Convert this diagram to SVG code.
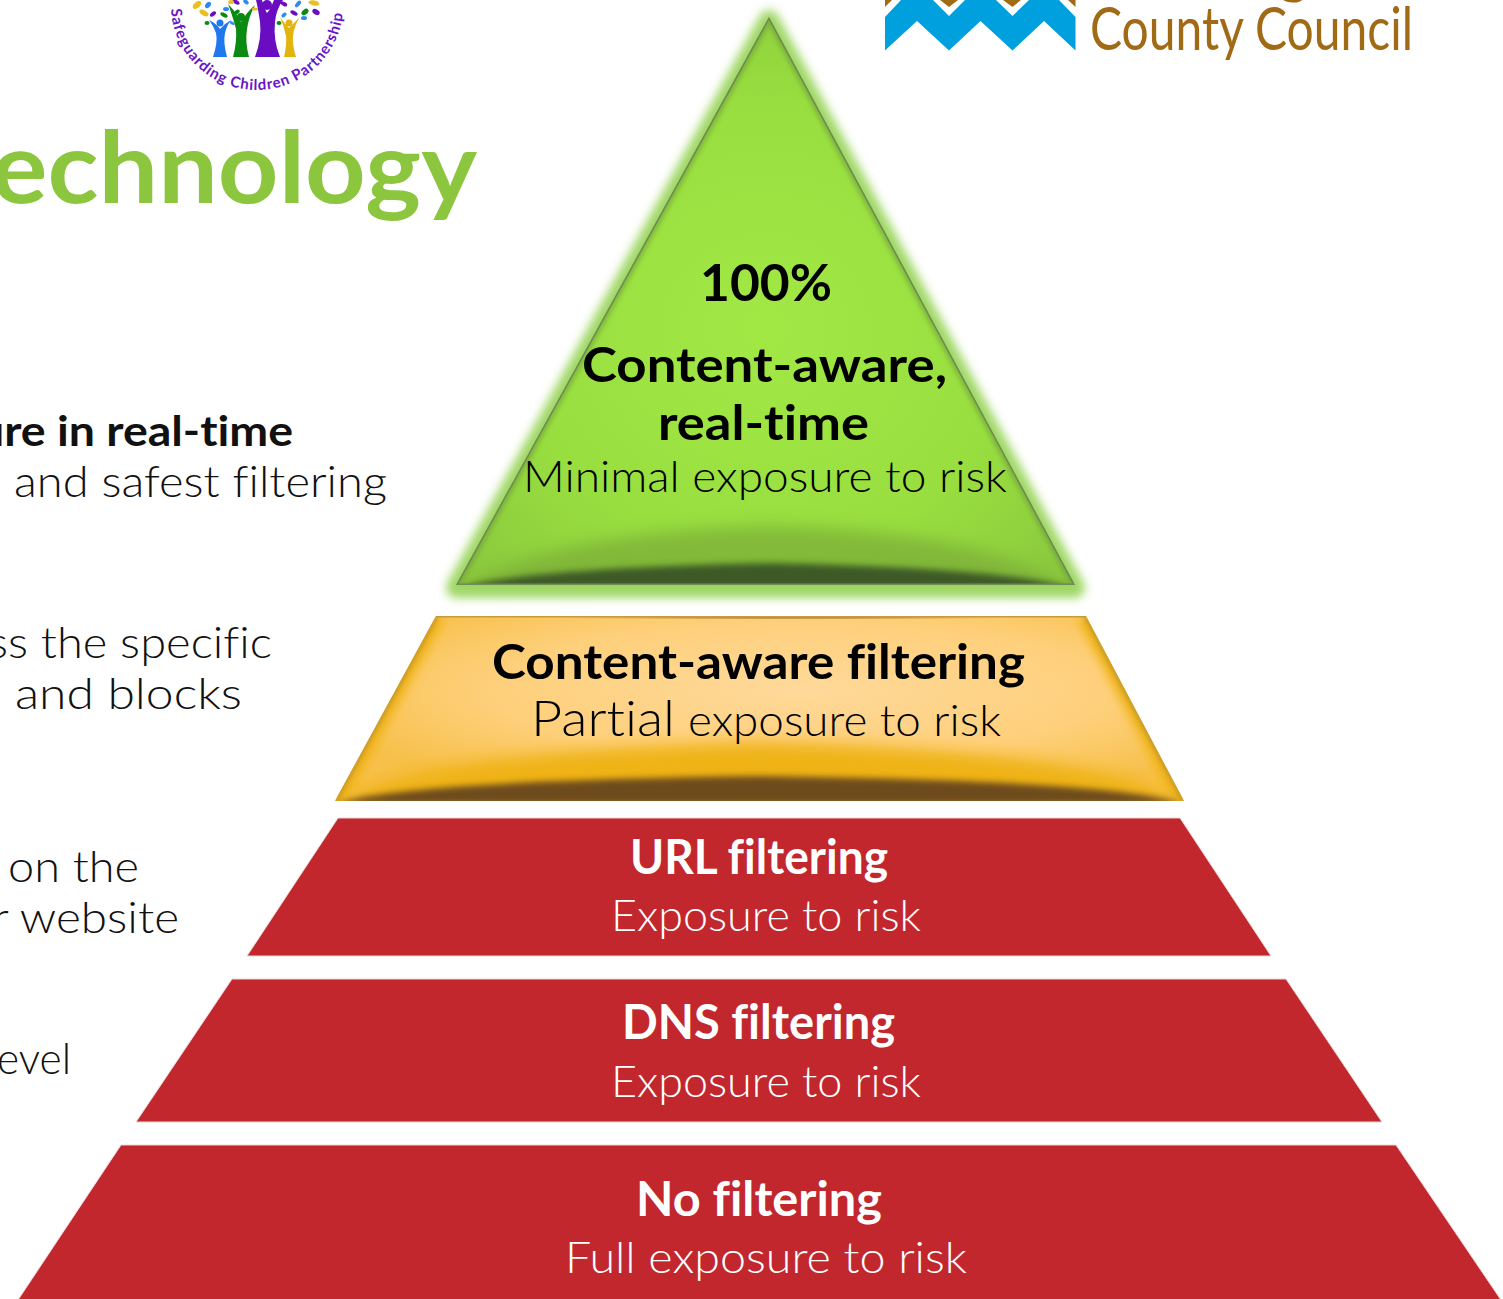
<svg xmlns="http://www.w3.org/2000/svg" width="1503" height="1299" viewBox="0 0 1503 1299">
<style>
text{font-family:"Lato","Liberation Sans",sans-serif;font-variant-ligatures:none}
.b{font-weight:700}
.t{font-size:43px;font-weight:300}
.left{font-size:44px;fill:#111;font-weight:300}
.w{fill:#fff}
.k{fill:#000}
.red{fill:#c1272d;stroke:#ecd5d5;stroke-width:1}
</style>
<defs>
<radialGradient id="gc" cx="0.5" cy="0.55" r="0.62"><stop offset="0" stop-color="#a2e845"/><stop offset="0.65" stop-color="#98de3f"/><stop offset="1" stop-color="#8ccb3e"/></radialGradient>
<radialGradient id="oc" cx="0.55" cy="0.4" r="0.6"><stop offset="0" stop-color="#ffd99a"/><stop offset="0.6" stop-color="#fed07c"/><stop offset="1" stop-color="#f7c04a"/></radialGradient>
<filter id="glow" x="-10%" y="-10%" width="120%" height="120%"><feGaussianBlur stdDeviation="5"/></filter>
<filter id="s8" x="-10%" y="-60%" width="120%" height="220%"><feGaussianBlur stdDeviation="8"/></filter>
<filter id="s4" x="-10%" y="-60%" width="120%" height="220%"><feGaussianBlur stdDeviation="3"/></filter>
<filter id="s5" x="-10%" y="-10%" width="120%" height="120%"><feGaussianBlur stdDeviation="5"/></filter>
<filter id="s2" x="-10%" y="-10%" width="120%" height="120%"><feGaussianBlur stdDeviation="2"/></filter>
<clipPath id="cg"><polygon points="769,17 1075,585 456,585"/></clipPath>
<clipPath id="co"><polygon points="436,616 1086,616 1184,801 335,801"/></clipPath>
<path id="arc" d="M171,6 A86,84 0 0 0 343,6"/>
</defs>
<rect width="1503" height="1299" fill="#fff"/>

<g id="logo-safeguarding">
<g fill="#1e78f0"><path d="M213,57 Q218,42 216,33 Q213,25 209,20 Q217,24 220,29 Q224,24 231,20 Q227,25 225,33 Q223,42 227,57Z"/><circle cx="220" cy="23" r="3.500"/></g>
<g fill="#0b8a12"><path d="M233,57 Q237,42 236,29 Q232,14 228,4 Q237,13 241,22 Q246,13 255,5 Q249,16 247,29 Q245,42 249,57Z"/><circle cx="241" cy="17" r="4"/></g>
<g fill="#6a0dc0"><path d="M255,57 Q262,38 260,22 Q258,8 256,0 L262,0 Q265,10 267,13 Q270,10 274,0 L283,0 Q276,10 275,22 Q273,40 280,57Z"/><circle cx="267" cy="5" r="5"/></g>
<g fill="#e3b30e"><path d="M284,57 Q287,44 286,36 Q284,26 280,17 Q285,24 289,28 Q293,24 300,17 Q294,26 293,36 Q292,44 296,57Z"/><circle cx="289" cy="23" r="3.500"/></g>
<g>
<ellipse cx="197" cy="5" rx="5" ry="3" fill="#e8c020" transform="rotate(-40 197 5)"/>
<ellipse cx="204" cy="13" rx="5" ry="2.500" fill="#e8c020" transform="rotate(30 204 13)"/>
<ellipse cx="208" cy="5" rx="3.500" ry="2.500" fill="#2a8cf0" transform="rotate(-50 208 5)"/>
<ellipse cx="213" cy="14" rx="3.500" ry="2" fill="#6a0dc0" transform="rotate(-40 213 14)"/>
<ellipse cx="207" cy="23" rx="2.500" ry="2" fill="#0b8a12"/>
<ellipse cx="224" cy="15" rx="4" ry="2" fill="#0b8a12" transform="rotate(30 224 15)"/>
<ellipse cx="226" cy="9" rx="3" ry="2" fill="#2a8cf0"/>
<ellipse cx="232" cy="23" rx="3" ry="1.500" fill="#2a8cf0" transform="rotate(30 232 23)"/>
<ellipse cx="236" cy="2" rx="4" ry="2" fill="#6a0dc0" transform="rotate(30 236 2)"/>
<ellipse cx="231" cy="2" rx="3" ry="2" fill="#e8c020"/>
<ellipse cx="237" cy="12" rx="3" ry="2" fill="#0b8a12" transform="rotate(-40 237 12)"/>
<ellipse cx="246" cy="2" rx="3" ry="2" fill="#2a8cf0" transform="rotate(40 246 2)"/>
<ellipse cx="255" cy="9" rx="3" ry="1.500" fill="#e8c020"/>
<ellipse cx="284" cy="4" rx="3.500" ry="2" fill="#6a0dc0" transform="rotate(30 284 4)"/>
<ellipse cx="284" cy="15" rx="3" ry="1.800" fill="#2a8cf0" transform="rotate(-40 284 15)"/>
<ellipse cx="294" cy="13" rx="4" ry="2" fill="#6a0dc0" transform="rotate(30 294 13)"/>
<ellipse cx="298" cy="4" rx="4" ry="2" fill="#2a8cf0" transform="rotate(-50 298 4)"/>
<ellipse cx="305" cy="12" rx="4" ry="2.500" fill="#0b8a12" transform="rotate(-40 305 12)"/>
<ellipse cx="304" cy="18" rx="3" ry="2" fill="#2a8cf0"/>
<ellipse cx="314" cy="3" rx="5.500" ry="2.500" fill="#e8c020" transform="rotate(10 314 3)"/>
<ellipse cx="316" cy="12" rx="4" ry="2.500" fill="#6a0dc0" transform="rotate(30 316 12)"/>
<ellipse cx="279" cy="23" rx="2.500" ry="2" fill="#0b8a12"/>
</g>
<text font-size="15" font-weight="700" fill="#6a14c8"><textPath href="#arc" startOffset="3" textLength="256" lengthAdjust="spacing">Safeguarding Children Partnership</textPath></text>
</g>

<g id="logo-council">
<polygon fill="#00a0df" points="885,17 901,0 933,0 949,16 965,0 996,0 1012.500,16 1029,0 1059,0 1075.500,17 1075.500,50.500 1044,21 1012.500,50.500 980.500,21 949,50.500 917,21 885,50.500"/>
<g fill="#a16a14"><polygon points="940,0 958,0 949,7"/><polygon points="1003,0 1021,0 1012.500,7"/><polygon points="885,0 892,0 885,7"/><polygon points="1068,0 1075.500,0 1075.500,7"/></g>
<text x="1090" y="50" font-size="60" fill="#a16a14" textLength="323" lengthAdjust="spacingAndGlyphs">County Council</text>
<text x="1278" y="-8" font-size="60" fill="#a16a14">g</text>
</g>

<g id="heading"><text x="-9" y="203" font-size="100" class="b" fill="#8cc63f" textLength="486" lengthAdjust="spacingAndGlyphs">echnology</text></g>

<g id="left-text">
<text x="-22" y="446" font-size="42" class="b" fill="#111" textLength="315" lengthAdjust="spacingAndGlyphs">ure in real-time</text>
<text x="14" y="497" class="left" textLength="373" lengthAdjust="spacingAndGlyphs">and safest filtering</text>
<text x="-12" y="658" class="left" textLength="284" lengthAdjust="spacingAndGlyphs">ss the specific</text>
<text x="15" y="709" class="left" textLength="227" lengthAdjust="spacingAndGlyphs">and blocks</text>
<text x="8" y="882" class="left" textLength="131" lengthAdjust="spacingAndGlyphs">on the</text>
<text x="-8" y="933" class="left" textLength="187" lengthAdjust="spacingAndGlyphs">r website</text>
<text x="-3" y="1074" class="left" textLength="74" lengthAdjust="spacingAndGlyphs">evel</text>
</g>

<g id="tier-realtime">
<polygon points="769,17 1075,585 456,585" fill="#8ed04a" stroke="#8ed04a" stroke-width="20" stroke-linejoin="round" filter="url(#glow)" opacity="0.85" transform="translate(0,3)"/>
<polygon points="769,17 1075,585 456,585" fill="url(#gc)"/>
<g clip-path="url(#cg)">
<path d="M456,590 Q560,530 770,526 Q980,530 1075,590Z" fill="#7cae38" opacity="0.75" filter="url(#s8)"/>
<path d="M456,588 Q530,568 770,563 Q1000,568 1075,588Z" fill="#3e5a28" filter="url(#s4)"/>
<path d="M769,17 L456,585 M769,17 L1075,585" stroke="#6e9a3e" stroke-width="9" fill="none" filter="url(#s2)" opacity="0.55"/>
<path d="M769,17 L456,585 M769,17 L1075,585 M456,585 L1075,585" stroke="#6f8a55" stroke-width="3" fill="none"/>
</g>
<text x="700" y="301" font-size="52" class="b k" textLength="132" lengthAdjust="spacingAndGlyphs">100%</text>
<text x="582" y="382" font-size="47" class="b k" textLength="365" lengthAdjust="spacingAndGlyphs">Content-aware,</text>
<text x="658" y="440" font-size="47" class="b k" textLength="211" lengthAdjust="spacingAndGlyphs">real-time</text>
<text x="523" y="492" class="t k" textLength="484" lengthAdjust="spacingAndGlyphs">Minimal exposure to risk</text>
</g>

<g id="tier-content-aware">
<polygon points="436,616 1086,616 1184,801 335,801" fill="url(#oc)"/>
<g clip-path="url(#co)">
<path d="M436,616 L335,801 M1086,616 L1184,801" stroke="#efb319" stroke-width="18" fill="none" filter="url(#s5)"/>
<path d="M335,805 Q400,752 760,742 Q1120,752 1184,805Z" fill="#efb319" filter="url(#s8)"/>
<path d="M335,804 Q400,781 760,776 Q1120,781 1184,804Z" fill="#6e4c1c" filter="url(#s4)"/>
<path d="M560,614 L1000,614 Q800,622 560,614Z" fill="#6e4c14" filter="url(#s2)"/>
<path d="M436,616 L1086,616" stroke="#c79a3c" stroke-width="3" fill="none"/>
<path d="M436,616 L335,801 M1086,616 L1184,801" stroke="#b08a3a" stroke-width="4" fill="none" opacity="0.8" filter="url(#s2)"/>
</g>
<text x="492" y="679" font-size="47" class="b k" textLength="533" lengthAdjust="spacingAndGlyphs">Content-aware filtering</text>
<text x="531" y="736" font-size="50" font-weight="300" class="k" textLength="144" lengthAdjust="spacingAndGlyphs">Partial</text>
<text x="688" y="736" class="t k" textLength="313" lengthAdjust="spacingAndGlyphs">exposure to risk</text>
</g>

<g id="tier-url">
<polygon class="red" points="338,818 1180,818 1271,956 247,956"/>
<text x="630" y="874" font-size="47" class="b w" textLength="258" lengthAdjust="spacingAndGlyphs">URL filtering</text>
<text x="611" y="931" class="t w" textLength="310" lengthAdjust="spacingAndGlyphs">Exposure to risk</text>
</g>

<g id="tier-dns">
<polygon class="red" points="232,979 1286,979 1382,1122 136,1122"/>
<text x="622" y="1039" font-size="47" class="b w" textLength="273" lengthAdjust="spacingAndGlyphs">DNS filtering</text>
<text x="611" y="1097" class="t w" textLength="310" lengthAdjust="spacingAndGlyphs">Exposure to risk</text>
</g>

<g id="tier-none">
<polygon class="red" points="121,1145 1396,1145 1501,1300 18,1300"/>
<text x="636" y="1216" font-size="47" class="b w" textLength="246" lengthAdjust="spacingAndGlyphs">No filtering</text>
<text x="565" y="1273" class="t w" textLength="402" lengthAdjust="spacingAndGlyphs">Full exposure to risk</text>
</g>
</svg>
